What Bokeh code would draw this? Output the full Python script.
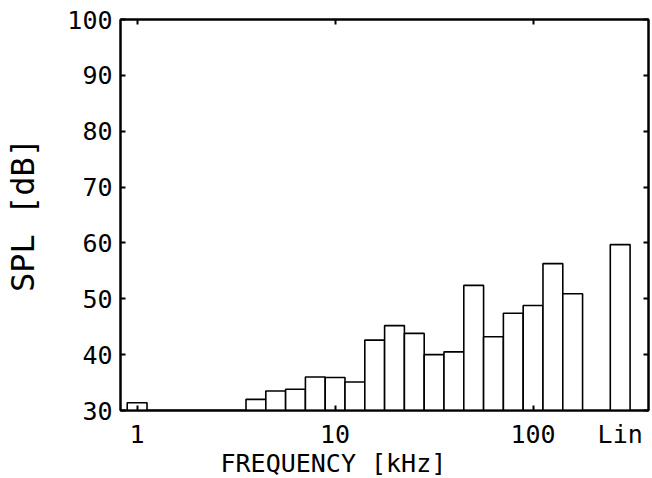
from bokeh.plotting import figure
from bokeh.models import (FixedTicker, LinearAxis, Range1d, Title,
                          CustomJSTickFormatter, ColumnDataSource)
from bokeh.embed import file_html
from bokeh.resources import INLINE

# --- data -------------------------------------------------------------
bands = ["1", "1.25", "1.6", "2", "2.5", "3.15", "4", "5", "6.3", "8",
         "10", "12.5", "16", "20", "25", "31.5", "40", "50", "63", "80",
         "100", "125", "160"]
levels = [31.4, 30, 30, 30, 30, 30, 32.0, 33.5, 33.8, 36.0,
          35.9, 35.1, 42.6, 45.2, 43.8, 40.0, 40.5, 52.4, 43.2, 47.4,
          48.8, 56.3, 50.9]
lin_label = "Lin"
lin_level = 59.7
x_tick_bands = ["1", "10", "100"]
y_ticks = [30, 40, 50, 60, 70, 80, 90, 100]

# --- layout constants ---------------------------------------------------
LIN_GAP = 2.4          # distance (in band steps) between last band and Lin bar
FONT = "DejaVu Sans Mono"

band_x = list(range(len(bands)))
lin_x = band_x[-1] + LIN_GAP
bar_x = band_x + [lin_x]
bar_top = levels + [lin_level]
src = ColumnDataSource(dict(x=bar_x, top=bar_top))

tick_pos = [bands.index(b) for b in x_tick_bands]
label_pos = tick_pos + [lin_x]
label_txt = x_tick_bands + [lin_label]

p = figure(frame_width=528, frame_height=391,
           x_range=Range1d(-0.84, 25.83), y_range=Range1d(y_ticks[0], y_ticks[-1]),
           output_backend="svg", toolbar_location=None,
           min_border_left=120, min_border_right=4,
           min_border_top=19, min_border_bottom=62)
p.background_fill_color = "white"
p.border_fill_color = "white"
p.outline_line_color = "black"
p.outline_line_width = 2
p.xgrid.visible = False
p.ygrid.visible = False

p.vbar(x="x", top="top", bottom=y_ticks[0], width=1, source=src,
       fill_color="white", line_color="black", line_width=1.6)

# bottom axis
xa = p.xaxis[0]
xa.ticker = FixedTicker(ticks=label_pos, minor_ticks=tick_pos)
xa.formatter = CustomJSTickFormatter(
    args=dict(pos=label_pos, labels=label_txt),
    code="""
    for (let i = 0; i < pos.length; i++) {
        if (Math.abs(pos[i] - tick) < 1e-6) return labels[i];
    }
    return '';
    """)
xa.major_tick_line_color = None
xa.minor_tick_in = 5
xa.minor_tick_out = 0
xa.minor_tick_line_color = "black"
xa.minor_tick_line_width = 2
xa.axis_line_width = 2
xa.major_label_standoff = 3
xa.major_label_text_font = FONT
xa.major_label_text_font_size = "25px"
xa.major_label_text_color = "black"

# left axis
ya = p.yaxis[0]
ya.ticker = FixedTicker(ticks=y_ticks)
ya.major_tick_in = 5
ya.major_tick_out = 0
ya.major_tick_line_width = 2
ya.minor_tick_line_color = None
ya.axis_line_width = 2
ya.major_label_standoff = 8
ya.major_label_text_font = FONT
ya.major_label_text_font_size = "25px"
ya.major_label_text_color = "black"
ya.axis_label = "SPL [dB]"
ya.axis_label_text_font = FONT
ya.axis_label_text_font_size = "32px"
ya.axis_label_text_font_style = "normal"
ya.axis_label_text_color = "black"
ya.axis_label_standoff = 22

# top axis (ticks only)
ta = LinearAxis(ticker=FixedTicker(ticks=tick_pos), major_tick_in=5, major_tick_out=0,
                major_tick_line_width=2, minor_tick_line_color=None,
                axis_line_width=2, major_label_text_font_size="1px",
                major_label_text_color=None, major_label_standoff=0)
p.add_layout(ta, "above")

# right axis (ticks only)
ra = LinearAxis(ticker=FixedTicker(ticks=y_ticks), major_tick_in=5, major_tick_out=0,
                major_tick_line_width=2, minor_tick_line_color=None,
                axis_line_width=2, major_label_text_font_size="1px",
                major_label_text_color=None, major_label_standoff=0)
p.add_layout(ra, "right")

# x axis title
p.add_layout(Title(text="FREQUENCY [kHz]", align="left", offset=100,
                   vertical_align="top",
                   text_font=FONT, text_font_size="25px",
                   text_font_style="normal", text_color="black",
                   standoff=-6), "below")

open("out.html", "w").write(file_html(p, INLINE))
